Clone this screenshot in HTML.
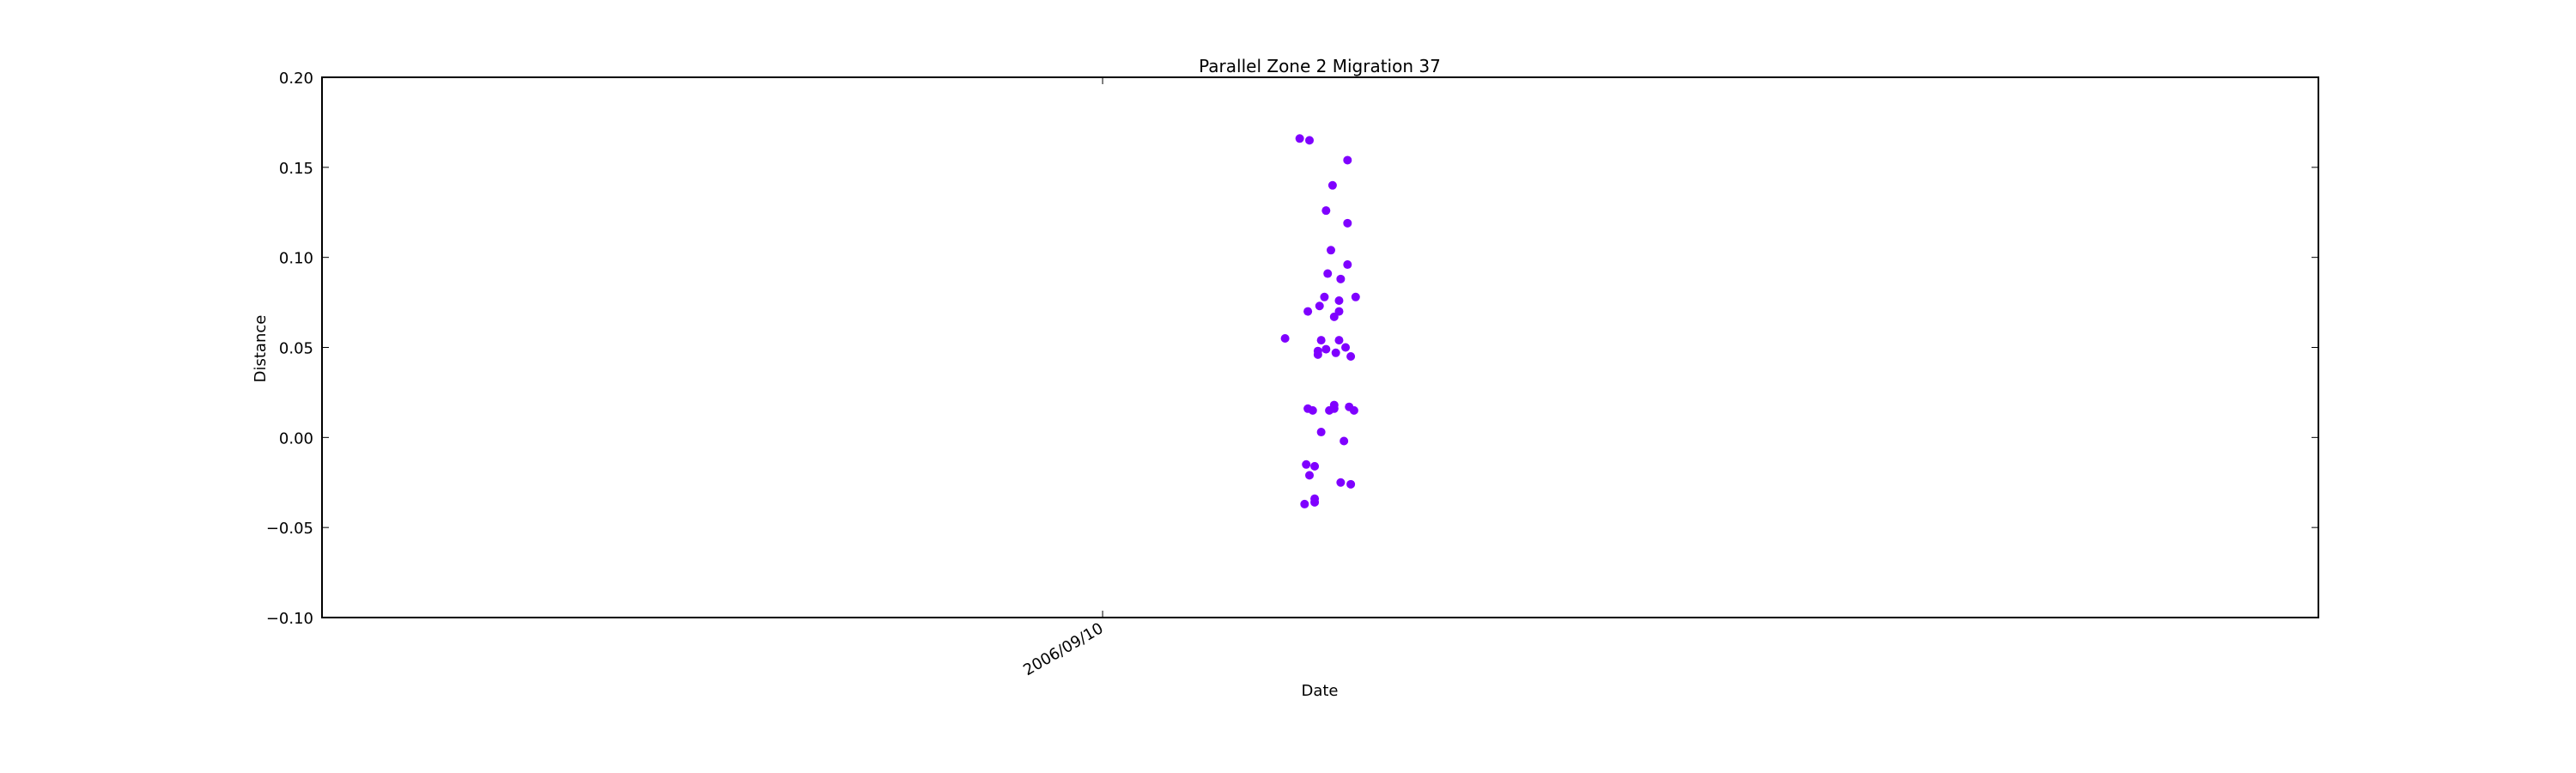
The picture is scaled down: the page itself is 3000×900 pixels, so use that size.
<!DOCTYPE html>
<html><head><meta charset="utf-8"><style>html,body{margin:0;padding:0;background:#fff}svg{display:block}text{font-family:"DejaVu Sans","Liberation Sans",sans-serif;fill:#000}</style></head>
<body>
<svg id="chart" width="3000" height="900" xmlns="http://www.w3.org/2000/svg">
<rect x="0" y="0" width="3000" height="900" fill="#fff"/>
<text x="1537" y="84" font-size="20" text-anchor="middle">Parallel Zone 2 Migration 37</text>
<text transform="translate(309,406) rotate(-90)" font-size="18" text-anchor="middle">Distance</text>
<text x="1537" y="810" font-size="18" text-anchor="middle">Date</text>
<g id="ticks"></g>
<g id="points"></g>
<rect x="375" y="90" width="2325" height="629" fill="none" stroke="#000" stroke-width="2"/>
</svg>
<script>
// hours offset from 2006/09/10 00:00
const xHours = [6.06,6.36,7.53,7.07,6.87,7.53,7.02,7.53,6.92,7.32,6.82,7.27,7.78,6.67,6.31,7.27,7.12,5.61,6.72,7.27,7.47,6.62,6.87,7.17,6.62,7.63,6.31,6.46,7.12,7.12,6.97,7.58,7.73,6.72,7.42,6.26,6.52,6.36,7.32,7.63,6.52,6.52,6.21];
const yValues = [0.166,0.165,0.154,0.140,0.126,0.119,0.104,0.096,0.091,0.088,0.078,0.076,0.078,0.073,0.070,0.070,0.067,0.055,0.054,0.054,0.050,0.048,0.049,0.047,0.046,0.045,0.016,0.015,0.018,0.016,0.015,0.017,0.015,0.003,-0.002,-0.015,-0.016,-0.021,-0.025,-0.026,-0.034,-0.036,-0.037];
const yTicks = [0.20,0.15,0.10,0.05,0.00,-0.05,-0.10];
const xTickHours = [0];
const xTickLabels = ["2006/09/10"];
const xDomain = [-24, 37.38];
const yDomain = [-0.10, 0.20];
const L=375,R=2700,T=90,B=719;
const NS='http://www.w3.org/2000/svg';
function xs(v){return L+(v-xDomain[0])/(xDomain[1]-xDomain[0])*(R-L);}
function ys(v){return B-(v-yDomain[0])/(yDomain[1]-yDomain[0])*(B-T);}
const tg=document.getElementById('ticks');
function fmt(v){const s=Math.abs(v).toFixed(2);return (v<-1e-9?'\u2212':'')+s;}
yTicks.forEach(function(v){
  const y=ys(v);
  const t1=document.createElementNS(NS,'line');
  t1.setAttribute('x1',L);t1.setAttribute('x2',L+8);t1.setAttribute('y1',y);t1.setAttribute('y2',y);t1.setAttribute('stroke','#000');
  
  
  tg.appendChild(t1);
  const t2=document.createElementNS(NS,'line');
  t2.setAttribute('x1',R-8);t2.setAttribute('x2',R);t2.setAttribute('y1',y);t2.setAttribute('y2',y);t2.setAttribute('stroke','#000');
  
  
  tg.appendChild(t2);
  const tx=document.createElementNS(NS,'text');
  tx.setAttribute('x',L-10);tx.setAttribute('y',y+7);tx.setAttribute('font-size','18');tx.setAttribute('text-anchor','end');
  tx.textContent=fmt(v);
  
  
  tg.appendChild(tx);
});
xTickHours.forEach(function(v,i){
  const x=xs(v);
  const a=document.createElementNS(NS,'line');
  a.setAttribute('x1',x);a.setAttribute('x2',x);a.setAttribute('y1',B-8);a.setAttribute('y2',B);a.setAttribute('stroke','#000');
  
  
  tg.appendChild(a);
  const b=document.createElementNS(NS,'line');
  b.setAttribute('x1',x);b.setAttribute('x2',x);b.setAttribute('y1',T);b.setAttribute('y2',T+8);b.setAttribute('stroke','#000');
  
  
  tg.appendChild(b);
  const tx=document.createElementNS(NS,'text');
  tx.setAttribute('transform','translate('+(x+2)+','+(B+16)+') rotate(-30)');
  tx.setAttribute('font-size','18');tx.setAttribute('text-anchor','end');
  tx.textContent=xTickLabels[i];
  
  
  tg.appendChild(tx);
});
const pg=document.getElementById('points');
xHours.forEach(function(h,i){
  const c=document.createElementNS(NS,'circle');
  c.setAttribute('cx',xs(h));c.setAttribute('cy',ys(yValues[i]));c.setAttribute('r','5');c.setAttribute('fill','#7f00ff');
  
  
  pg.appendChild(c);
});
</script>
</body></html>
